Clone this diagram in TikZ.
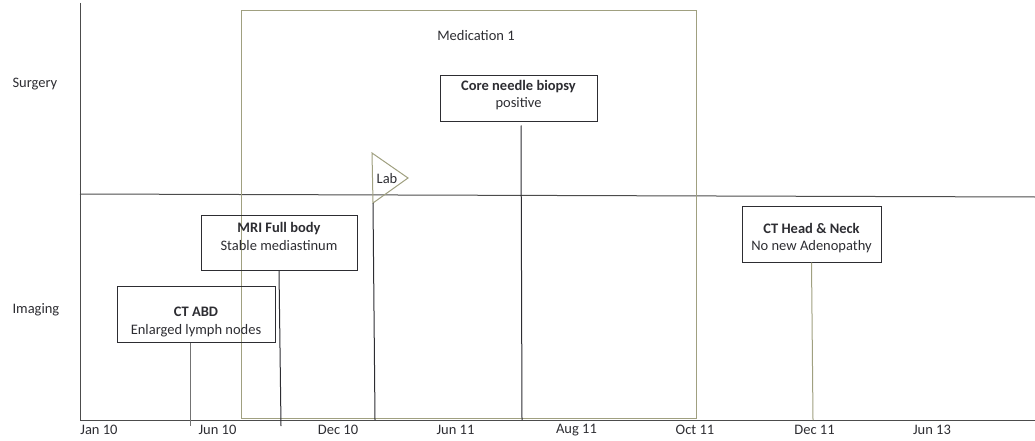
\documentclass[tikz,border=0pt]{standalone}
\usepackage{fontspec}
\setmainfont{Carlito}
\definecolor{medcol}{RGB}{160,160,128}
\definecolor{inkcol}{RGB}{45,45,50}
\tikzset{
  axis/.style = {draw=black!70, line width=1pt},
  medbox/.style = {draw=medcol, line width=1pt, inner sep=0pt},
  evt/.style = {draw=inkcol, line width=1pt, align=center, inner sep=0pt, text=inkcol},
  link/.style = {draw=inkcol, line width=1pt},
  medlink/.style = {draw=medcol, line width=1pt},
  lane/.style = {text=inkcol, anchor=west},
  datelbl/.style = {text=inkcol}
}
% vertical padding inside the event boxes
\newcommand{\padtop}[1]{\rule{0pt}{#1}}
\newcommand{\padbot}[1]{\rule[-#1]{0pt}{1pt}}

\begin{document}
\begin{tikzpicture}[x=1pt, y=-1pt, font=\fontsize{14.5}{17.5}\selectfont]
\useasboundingbox (0,0) rectangle (1035,441);

% axes and lane divider
\coordinate (top) at (80,3);
\coordinate (origin) at (80,420);
\coordinate (end) at (1035,420);
\coordinate (divl) at (80,194);
\coordinate (divr) at (1035,197);
\draw[axis] (top) -- (origin) -- (end);
\draw[axis] (divl) -- (divr);

\node [lane] (surgery) at (9,84) {Surgery};
\node [lane] (imaging) at (9,310) {Imaging};

% medication period
\node [medbox, minimum width=455pt, minimum height=407pt] (med) at (468.5,214.5) {};
\node [text=inkcol] (medlbl) at (476,36) {Medication 1};

% events
\node [evt, minimum width=157pt, minimum height=46pt] (biopsy) at (518.5,99)
  {\textbf{Core needle biopsy}\\positive\padbot{10pt}};
\node [evt, minimum width=156pt, minimum height=55pt] (mri) at (279,242.5)
  {\textbf{MRI Full body}\\Stable mediastinum\padbot{12pt}};
\node [evt, minimum width=158pt, minimum height=56pt] (ctabd) at (196,314)
  {\padtop{25pt}\textbf{CT ABD}\\Enlarged lymph nodes};
\node [evt, minimum width=139pt, minimum height=56pt] (cthn) at (811.5,234)
  {\padtop{18pt}\textbf{CT Head \& Neck}\\No new Adenopathy};

% lab flag
\coordinate (labtop) at (372,153);
\coordinate (labtip) at (408,178);
\coordinate (labfoot) at (373,203);
\draw[medlink] (labtop) -- (labtip) -- (labfoot) -- cycle;
\node [text=inkcol] (lab) at (387,179) {Lab};

% drop lines to the time axis
\coordinate (biopsyend) at (522,420);
\coordinate (mriend) at (281,426);
\coordinate (ctabdend) at (190,426);
\coordinate (cthnend) at (813,420);
\coordinate (labend) at (375,420);
\draw[link] (biopsy.south) ++(2.5,3) -- (biopsyend);
\draw[link] (mri.south) -- (mriend);
\draw[link, draw=black!55] (ctabd.south -| ctabdend) -- (ctabdend);
\draw[medlink] (cthn.south) -- (cthnend);
\draw[link] (labfoot) -- (labend);

% dates
\node [datelbl] (jan10) at (99,430) {Jan 10};
\node [datelbl] (jun10) at (217.5,430) {Jun 10};
\node [datelbl] (dec10) at (338,430) {Dec 10};
\node [datelbl] (jun11) at (455.5,430) {Jun 11};
\node [datelbl] (aug11) at (576.5,430) {Aug 11};
\node [datelbl] (oct11) at (695,430) {Oct 11};
\node [datelbl] (dec11) at (814.5,430) {Dec 11};
\node [datelbl] (jun13) at (932,430) {Jun 13};
\end{tikzpicture}
\end{document}
